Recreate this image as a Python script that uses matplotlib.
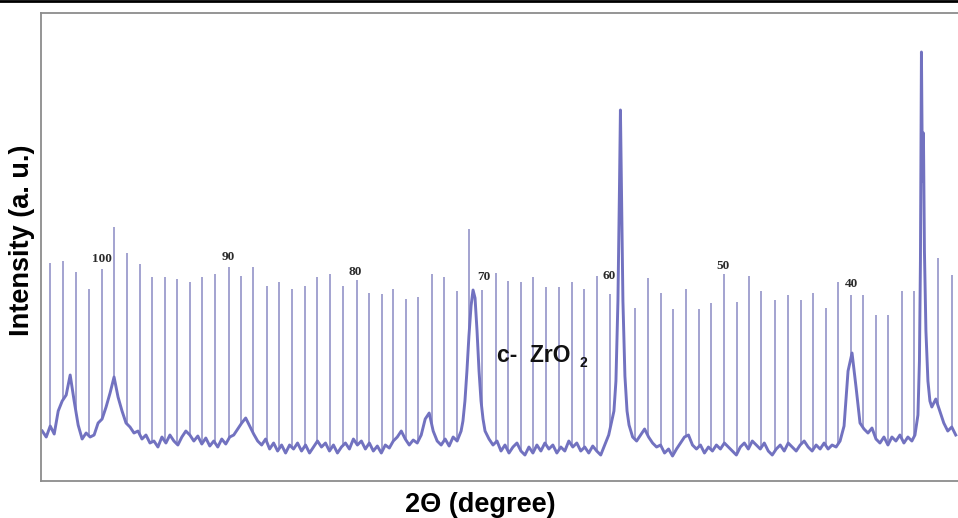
import numpy as np
import matplotlib.pyplot as plt
from matplotlib.lines import Line2D

# scan: 2theta grid (degrees, chart runs high -> low) and background counts
two_theta = np.linspace(104.8, 31.6, 230)
counts = [50, 44, 55, 47, 70, 80, 86, 106, 80, 56,
          42, 48, 44, 46, 58, 62, 74, 88, 104, 84,
          70, 58, 54, 48, 50, 42, 46, 38, 40, 34,
          44, 38, 46, 40, 36, 44, 50, 46, 40, 45,
          37, 43, 35, 40, 34, 42, 37, 44, 46, 52,
          58, 63, 55, 47, 40, 36, 42, 32, 38, 30,
          36, 28, 36, 32, 38, 30, 36, 28, 34, 40,
          34, 38, 30, 36, 28, 34, 38, 32, 42, 36,
          40, 32, 38, 30, 35, 28, 36, 33, 40, 44,
          50, 42, 36, 41, 38, 46, 62, 68, 50, 40,
          36, 42, 35, 44, 40, 50, 90, 160, 188, 130,
          70, 50, 42, 36, 40, 30, 36, 28, 34, 38,
          30, 26, 34, 28, 36, 30, 38, 32, 36, 28,
          34, 30, 40, 34, 38, 30, 34, 28, 35, 30,
          26, 36, 46, 70, 200, 311, 90, 52, 44, 40,
          46, 52, 44, 38, 34, 36, 28, 32, 25, 32,
          38, 44, 46, 36, 32, 36, 28, 34, 30, 36,
          32, 38, 34, 30, 26, 34, 38, 32, 40, 36,
          32, 38, 30, 26, 32, 36, 30, 38, 34, 30,
          36, 40, 34, 30, 36, 32, 38, 32, 36, 34,
          40, 55, 110, 128, 94, 58, 52, 48, 53, 42,
          38, 44, 36, 44, 40, 46, 38, 44, 40, 60,
          420, 160, 80, 74, 82, 70, 58, 50, 54, 46]

# sharper reflections, sampled finer
peak70_deg = [71.09, 70.93, 70.77, 70.61, 70.44, 70.28, 70.12, 69.96, 69.80, 69.64, 69.48]
peak70_int = [60, 80, 110, 145, 175, 191, 183, 150, 110, 80, 62]
peak58_deg = [59.23, 58.99, 58.83, 58.67, 58.55, 58.47, 58.39, 58.27, 58.11, 57.94, 57.78]
peak58_int = [56, 70, 100, 180, 290, 371, 290, 180, 105, 70, 56]
peak34_deg = [34.87, 34.63, 34.51, 34.43, 34.35, 34.27, 34.19, 34.11, 33.99, 33.83, 33.67]
peak34_int = [46, 66, 120, 220, 429, 300, 348, 230, 150, 100, 80]

# recorder paper marks (one per degree)
mark_deg = [104.18, 103.16, 102.12, 101.05, 100.01, 99.05, 98.01, 96.97, 96.01, 94.96,
            94.00, 92.96, 92.00, 90.96, 89.84, 88.87, 87.91, 86.79, 85.83, 84.79,
            83.75, 82.78, 81.74, 80.70, 79.58, 78.62, 77.58, 76.69, 75.65, 74.69,
            73.57, 72.61, 71.57, 70.61, 69.56, 68.44, 67.48, 66.44, 65.48, 64.44,
            63.39, 62.35, 61.39, 60.35, 59.31, 57.30, 56.26, 55.22, 54.26, 53.22,
            52.18, 51.21, 50.17, 49.13, 48.17, 47.21, 46.09, 45.04, 44.00, 43.04,
            42.00, 41.04, 40.00, 39.03, 37.99, 37.03, 35.91, 34.95, 33.02, 31.90]
mark_top = [218, 220, 209, 192, 212, 254, 228, 217, 204, 204,
            202, 199, 204, 207, 214, 205, 214, 195, 199, 192,
            195, 204, 207, 195, 201, 188, 187, 192, 182, 184,
            207, 204, 190, 252, 191, 208, 200, 199, 204, 194,
            194, 199, 192, 205, 187, 173, 203, 188, 172, 192,
            172, 178, 207, 179, 205, 190, 181, 186, 181, 188,
            173, 199, 186, 186, 166, 166, 190, 190, 223, 206]

paper_labels = ['100', '90', '80', '70', '60', '50', '40']
paper_label_deg = [100.01, 89.92, 79.74, 69.40, 59.39, 50.25, 39.92]
paper_label_int = [222, 224, 209, 204, 205, 215, 197]

# merge background with the finely sampled peaks
x = np.array(two_theta)
y = np.array(counts, dtype=float)
for pd_, pi_ in [(peak70_deg, peak70_int), (peak58_deg, peak58_int), (peak34_deg, peak34_int)]:
    keep = (x > max(pd_)) | (x < min(pd_))
    x = np.concatenate([x[keep], pd_])
    y = np.concatenate([y[keep], pi_])
order = np.argsort(x)
x, y = x[order], y[order]

fig = plt.figure(figsize=(9.58, 5.18), dpi=100)
ax = fig.add_axes([0.0428, 0.0714, 0.9572, 0.9035])

foot = np.interp(mark_deg, x, y)
ax.vlines(mark_deg, foot, mark_top, colors='#8a8ac4', linewidth=1.1)
ax.plot(x, y, color='#7272c0', linewidth=2.1)

for lab, d, v in zip(paper_labels, paper_label_deg, paper_label_int):
    ax.text(d, v, lab, ha='center', va='center', fontsize=9.5, fontweight='bold',
            family='Liberation Serif', color='#2a2a2a')

ax.text(68.36, 119, 'c-  ZrO', fontsize=16.5, fontweight='bold', family='Liberation Sans',
        ha='left', va='baseline', color='#111111')
ax.text(61.71, 114, '2', fontsize=10, fontweight='bold', family='Liberation Sans',
        ha='left', va='baseline', color='#111111')

ax.set_xlim(104.9, 31.42)
ax.set_ylim(0, 468)
ax.set_xticks([])
ax.set_yticks([])
for s in ['left', 'top', 'bottom']:
    ax.spines[s].set_color('#8c8c8c')
    ax.spines[s].set_linewidth(1.3)
ax.spines['right'].set_visible(False)

ax.set_xlabel('2\u0398 (degree)', fontsize=19.5, fontweight='bold', family='Liberation Sans', va='center')
ax.xaxis.set_label_coords(0.4787, -0.0513)
ax.set_ylabel('Intensity (a. u.)', fontsize=19.5, fontweight='bold', family='Liberation Sans', va='center')
ax.yaxis.set_label_coords(-0.0207, 0.515)

fig.add_artist(Line2D([0, 1], [0.998, 0.998], color='black', linewidth=2, transform=fig.transFigure))

fig.savefig('out.png', dpi=100)
